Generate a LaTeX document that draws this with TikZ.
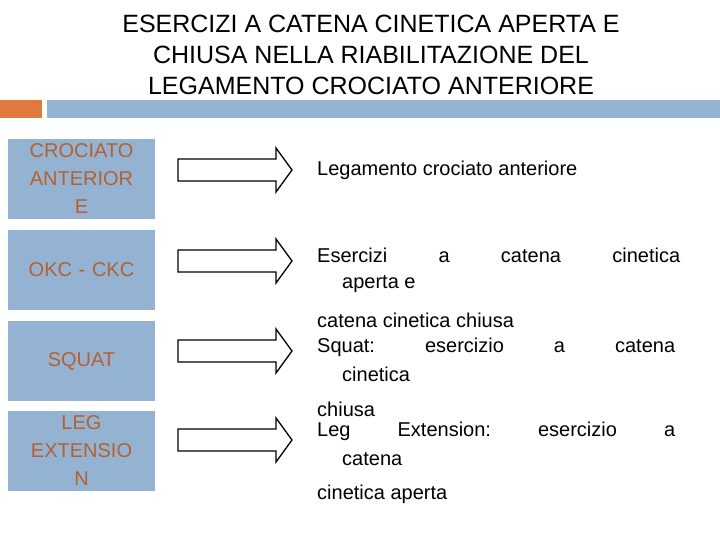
\documentclass[tikz,border=0pt]{standalone}
\usepackage{fontspec}
\setmainfont{Liberation Sans}
\definecolor{barblue}{RGB}{148,179,210}
\definecolor{barorange}{RGB}{224,122,60}
\definecolor{boxtext}{RGB}{181,96,46}
\tikzset{
  topic/.style={fill=barblue, minimum width=147, minimum height=80, text width=140,
    align=center, text=boxtext, font=\fontsize{20}{28}\selectfont, inner sep=0pt},
  expl/.style={anchor=west, font=\fontsize{20}{24}\selectfont, inner sep=0pt}
}
\newcommand\fatarrow[1]{%
  \draw[line width=1.3pt, line join=miter] (#1) ++(-57,-11) -- ++(98,0) -- ++(0,-11)
    -- ++(16,22) -- ++(-16,22) -- ++(0,-11) -- ++(-98,0) -- cycle;}
\begin{document}
\begin{tikzpicture}[x=1pt,y=-1pt]
\useasboundingbox (0,0) rectangle (720,540);

\node[align=center, font=\fontsize{25}{31}\selectfont] (title) at (371,55)
  {ESERCIZI A CATENA CINETICA APERTA E\\CHIUSA NELLA RIABILITAZIONE DEL\\LEGAMENTO CROCIATO ANTERIORE};
\fill[barorange] (0,100) rectangle (42,118);
\fill[barblue] (47,100) rectangle (720,118);

\node[topic] (b1) at (81.5,179) {CROCIATO\\ANTERIOR\\E};
\node[topic] (b2) at (81.5,270) {OKC - CKC};
\node[topic] (b3) at (81.5,361) {SQUAT};
\node[topic] (b4) at (81.5,451) {LEG\\EXTENSIO\\N};

\foreach \y/\n in {170/a1,261/a2,351/a3,440/a4}{
  \coordinate (\n) at (235,\y);
  \fatarrow{\n}
}

\node[expl] (t1) at (317,170) {Legamento crociato anteriore};
\node[expl] (t2a) at (317,255) {\makebox[363pt][s]{Esercizi\hfill a\hfill catena\hfill cinetica}};
\node[expl] (t2b) at (342,284) {aperta e};
\node[expl] (t2c) at (317,320) {catena cinetica chiusa};
\node[expl] (t3a) at (317,347) {\makebox[358pt][s]{Squat:\hfill esercizio\hfill a\hfill catena}};
\node[expl] (t3b) at (342,374) {cinetica};
\node[expl] (t3c) at (317,409) {chiusa};
\node[expl] (t4a) at (317,431) {\makebox[358pt][s]{Leg\hfill Extension:\hfill esercizio\hfill a}};
\node[expl] (t4b) at (342,459) {catena};
\node[expl] (t4c) at (317,494) {cinetica aperta};
\end{tikzpicture}
\end{document}
